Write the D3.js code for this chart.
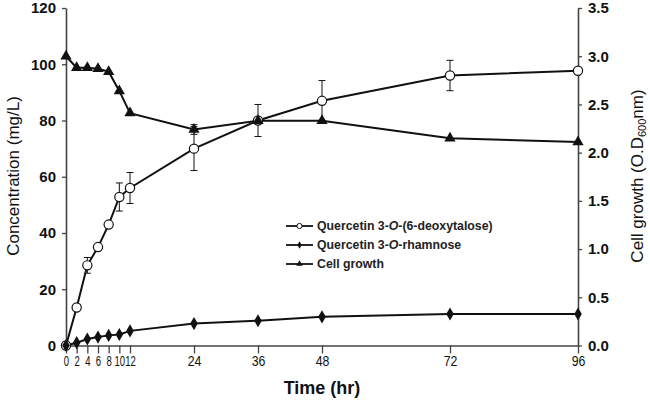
<!DOCTYPE html>
<html><head><meta charset="utf-8">
<script src="https://cdn.jsdelivr.net/npm/d3@7"></script>
<style>body{margin:0;background:#fff}svg{display:block}</style>
</head><body><svg id="c" width="650" height="402"></svg>
<script>
const times = [0,2,4,6,8,10,12,24,36,48,72,96];
const deoxytalose = [0,13.5,28.5,35,43,52.8,56,70,80,87,96,97.7];
const deoxytaloseErr = [0,1,2.8,1,1,5,5.5,7.8,5.7,7.2,5.4,0];
const rhamnose = [0,1,2.3,3,3.6,3.9,5.2,7.8,8.8,10.2,11.2,11.2];
const cellGrowth = [3.0,2.88,2.88,2.87,2.84,2.64,2.41,2.24,2.33,2.33,2.15,2.11];
const cellGrowthErr = [0,0,0,0,0,0,0,0.05,0,0,0,0];
const leftTicks = [0,20,40,60,80,100,120];
const rightTicks = [0,0.5,1.0,1.5,2.0,2.5,3.0,3.5];
const legendLabels = ["Quercetin 3-O-(6-deoxytalose)","Quercetin 3-O-rhamnose","Cell growth"];

const svg = d3.select("#c");
const L=66, R=578, T=8, B=345.5;
const x = d3.scaleLinear().domain([0,96]).range([L,R]);
const yL = d3.scaleLinear().domain([0,120]).range([B,T]);
const yR = d3.scaleLinear().domain([0,3.5]).range([B,T]);
const font = "Liberation Sans, Arial, sans-serif";

// axes
const axL = svg.append("g").attr("transform",`translate(${L},0)`)
  .call(d3.axisLeft(yL).tickValues(leftTicks).tickSize(4).tickSizeOuter(0).tickPadding(6));
const axR = svg.append("g").attr("transform",`translate(${R},0)`)
  .call(d3.axisRight(yR).tickValues(rightTicks).tickFormat(d3.format(".1f")).tickSize(4).tickSizeOuter(0).tickPadding(6));
const axB = svg.append("g").attr("transform",`translate(0,${B})`)
  .call(d3.axisBottom(x).tickValues(times).tickSize(8).tickSizeOuter(0).tickPadding(3));
[axL,axR,axB].forEach(a=>{
  a.selectAll("path.domain").attr("stroke","#444").attr("stroke-width",1.6);
  a.selectAll(".tick line").attr("stroke","#444").attr("stroke-width",1.3);
  a.selectAll("text").attr("fill","#111").style("font-family",font);
});
axL.selectAll("text").style("font-size","15px").style("font-weight","bold");
axR.selectAll("text").style("font-size","15px").style("font-weight","bold");
axB.selectAll("text").style("font-size","14px")
  .attr("transform",d=> d<=12 ? "scale(0.68,1)" : "scale(0.88,1)");

// axis titles
svg.append("text").attr("transform","translate(19,176) rotate(-90)").attr("text-anchor","middle")
  .style("font-family",font).style("font-size","17px").attr("fill","#111").text("Concentration (mg/L)");
const rt = svg.append("text").attr("transform","translate(643,176) rotate(-90)").attr("text-anchor","middle")
  .style("font-family",font).style("font-size","17px").attr("fill","#111");
rt.append("tspan").text("Cell growth (O.D");
rt.append("tspan").attr("dy",3).style("font-size","11px").text("600");
rt.append("tspan").attr("dy",-3).text("nm)");
svg.append("text").attr("x",322).attr("y",394).attr("text-anchor","middle")
  .style("font-family",font).style("font-size","18px").style("font-weight","bold").attr("fill","#111").text("Time (hr)");

const line = (ys, sc) => d3.line().x((d,i)=>x(times[i])).y(d=>sc(d))(ys);
const g = svg.append("g");

// error bars
function errBars(vals, errs, sc){
  vals.forEach((v,i)=>{
    const e = errs[i]; if(!e) return;
    const cx = x(times[i]);
    g.append("line").attr("x1",cx).attr("x2",cx).attr("y1",sc(v+e)).attr("y2",sc(v-e)).attr("stroke","#111").attr("stroke-width",1);
    [v+e,v-e].forEach(w=>g.append("line").attr("x1",cx-3.5).attr("x2",cx+3.5).attr("y1",sc(w)).attr("y2",sc(w)).attr("stroke","#111").attr("stroke-width",1));
  });
}
errBars(deoxytalose, deoxytaloseErr, yL);
errBars(cellGrowth, cellGrowthErr, yR);

g.append("path").attr("d",line(cellGrowth,yR)).attr("fill","none").attr("stroke","#111").attr("stroke-width",2);
g.append("path").attr("d",line(rhamnose,yL)).attr("fill","none").attr("stroke","#111").attr("stroke-width",2);
g.append("path").attr("d",line(deoxytalose,yL)).attr("fill","none").attr("stroke","#111").attr("stroke-width",2);

const tri = d3.symbol().type(d3.symbolTriangle).size(55);
const dia = d3.symbol().type(d3.symbolDiamond).size(50);
deoxytalose.forEach((v,i)=>g.append("circle").attr("cx",x(times[i])).attr("cy",yL(v)).attr("r",4.6).attr("fill","#fff").attr("stroke","#111").attr("stroke-width",1.2));
rhamnose.forEach((v,i)=>g.append("path").attr("d",dia()).attr("transform",`translate(${x(times[i])},${yL(v)})`).attr("fill","#111"));
cellGrowth.forEach((v,i)=>g.append("path").attr("d",tri()).attr("transform",`translate(${x(times[i])},${yR(v)})`).attr("fill","#111"));

// legend
const lg = svg.append("g");
legendLabels.forEach((lab,i)=>{
  const y = 226 + i*19;
  lg.append("line").attr("x1",286).attr("x2",313).attr("y1",y).attr("y2",y).attr("stroke","#111").attr("stroke-width",1.8);
  if(i===0) lg.append("circle").attr("cx",299.5).attr("cy",y).attr("r",2.6).attr("fill","#fff").attr("stroke","#111").attr("stroke-width",1);
  if(i===1) lg.append("path").attr("d",d3.symbol().type(d3.symbolDiamond).size(16)()).attr("transform",`translate(299.5,${y})`).attr("fill","#111");
  if(i===2) lg.append("path").attr("d",d3.symbol().type(d3.symbolTriangle).size(18)()).attr("transform",`translate(299.5,${y})`).attr("fill","#111");
  const t = lg.append("text").attr("x",317).attr("y",y+4).style("font-family",font).style("font-size","12.3px").style("font-weight","bold").attr("fill","#222");
  const m = lab.match(/^(.*3-)O(-.*)$/);
  if(m){ t.append("tspan").text(m[1]); t.append("tspan").style("font-style","italic").text("O"); t.append("tspan").text(m[2]); }
  else t.text(lab);
});
</script></body></html>
